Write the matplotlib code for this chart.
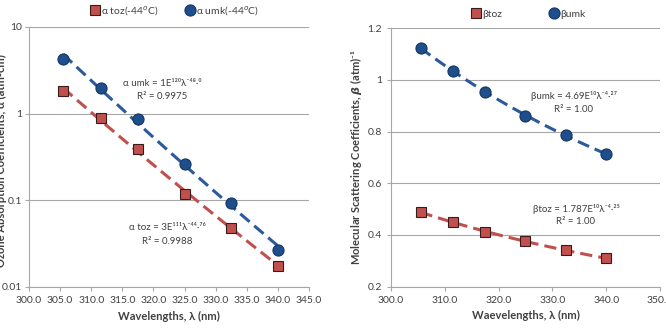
import numpy as np
import matplotlib
matplotlib.use("Agg")
import matplotlib.pyplot as plt
from matplotlib.ticker import FixedLocator, FuncFormatter

plt.rcParams['font.family'] = ['Lato', 'DejaVu Sans']
plt.rcParams['mathtext.fontset'] = 'custom'
plt.rcParams['mathtext.rm'] = 'Lato'

# wavelengths (nm)
wl = [305.5, 311.5, 317.5, 325.0, 332.5, 340.0]

# ozone absorption coefficients
alpha_toz = [1.84, 0.89, 0.39, 0.119, 0.0485, 0.0176]
alpha_umk = [4.29, 1.95, 0.87, 0.26, 0.092, 0.0266]

# molecular scattering coefficients
beta_toz = [0.488, 0.450, 0.413, 0.376, 0.340, 0.310]
beta_umk = [1.125, 1.035, 0.952, 0.862, 0.785, 0.714]

blue = "#1F4E8C"
blue_line = "#2A5A9C"
red = "#C0504D"
grid_c = "#A6A6A6"
txt_c = "#404040"


def power_fit(x, y):
    k, b = np.polyfit(np.log(x), np.log(y), 1)
    xs = np.linspace(min(x), max(x), 50)
    return xs, np.exp(b) * xs ** k


def style_axes(ax):
    ax.grid(axis='y', color=grid_c, linewidth=0.8)
    ax.set_axisbelow(True)
    for s in ['top', 'right']:
        ax.spines[s].set_visible(False)
    for s in ['left', 'bottom']:
        ax.spines[s].set_color(grid_c)
    ax.tick_params(axis='both', colors=grid_c, labelcolor=txt_c, labelsize=7.5, length=3)


fig = plt.figure(figsize=(6.66, 3.28), dpi=100)

# left panel: absorption (log scale)
ax1 = fig.add_axes([0.0435, 0.125, 0.4205, 0.793])
xs, ys = power_fit(wl, alpha_umk)
ax1.plot(xs, ys, '--', color=blue_line, linewidth=2.2, dashes=(4, 2))
xs, ys = power_fit(wl, alpha_toz)
ax1.plot(xs, ys, '--', color=red, linewidth=2.2, dashes=(4, 2))
ax1.plot(wl, alpha_toz, 's', color=red, markeredgecolor='#3a1a1a', markersize=6.5,
         markeredgewidth=0.8, label='α toz(-44$^{o}$C)')
ax1.plot(wl, alpha_umk, 'o', color=blue, markeredgecolor='#16375f', markersize=8,
         markeredgewidth=0.8, label='α umk(-44$^{o}$C)')
ax1.set_yscale('log')
ax1.set_ylim(0.01, 10)
ax1.set_xlim(300, 345)
ax1.xaxis.set_major_locator(FixedLocator(np.arange(300, 345.1, 5)))
ax1.xaxis.set_major_formatter(FuncFormatter(lambda v, p: f"{v:.1f}"))
ax1.yaxis.set_major_locator(FixedLocator([0.01, 0.1, 1, 10]))
ax1.yaxis.set_minor_locator(FixedLocator([]))
ax1.yaxis.set_major_formatter(FuncFormatter(lambda v, p: f"{v:g}"))
style_axes(ax1)
ax1.tick_params(axis='y', pad=2)
ax1.set_xlabel('Wavelengths, λ (nm)', fontsize=8, fontweight='bold', color=txt_c, labelpad=4)
ax1.set_ylabel('Ozone Absorption Coefficients, α (atm-cm)⁻¹', fontsize=8,
               fontweight='bold', color=txt_c)
ax1.yaxis.set_label_coords(-0.077, 0.5)
ax1.legend(loc='lower center', bbox_to_anchor=(0.52, 1.0), ncol=2, frameon=False,
           fontsize=7.5, handletextpad=0.1, columnspacing=2.5, handlelength=1,
           labelcolor=txt_c)

# right panel: scattering (linear scale)
ax2 = fig.add_axes([0.587, 0.126, 0.404, 0.788])
xs, ys = power_fit(wl, beta_umk)
ax2.plot(xs, ys, '--', color=blue_line, linewidth=2.2, dashes=(4, 2))
xs, ys = power_fit(wl, beta_toz)
ax2.plot(xs, ys, '--', color=red, linewidth=2.2, dashes=(4, 2))
ax2.plot(wl, beta_toz, 's', color=red, markeredgecolor='#3a1a1a', markersize=6.5,
         markeredgewidth=0.8, label='βtoz')
ax2.plot(wl, beta_umk, 'o', color=blue, markeredgecolor='#16375f', markersize=8,
         markeredgewidth=0.8, label='βumk')
ax2.set_ylim(0.2, 1.2)
ax2.set_xlim(300, 350)
ax2.xaxis.set_major_locator(FixedLocator(np.arange(300, 350.1, 10)))
ax2.xaxis.set_major_formatter(FuncFormatter(lambda v, p: f"{v:.1f}"))
ax2.yaxis.set_major_locator(FixedLocator([0.2, 0.4, 0.6, 0.8, 1.0, 1.2]))
ax2.yaxis.set_major_formatter(FuncFormatter(lambda v, p: f"{v:g}"))
style_axes(ax2)
ax2.set_xlabel('Waevelengths, λ (nm)', fontsize=8, fontweight='bold', color=txt_c, labelpad=4)
ax2.set_ylabel('Molecular Scattering Coefficients, $\\boldsymbol{\\beta}$ (atm)⁻¹',
               fontsize=8, fontweight='bold', color=txt_c)
ax2.yaxis.set_label_coords(-0.1, 0.5)
ax2.legend(loc='lower center', bbox_to_anchor=(0.51, 1.0), ncol=2, frameon=False,
           fontsize=7.5, handletextpad=0.1, columnspacing=4.5, handlelength=1,
           labelcolor=txt_c)

# equation annotations (trendline labels), placed in figure fractions
notes = [
    (162, 84, 'α umk = 1E¹²⁰λ⁻⁴⁸·⁰'),
    (162, 97, 'R² = 0.9975'),
    (167, 228, 'α toz = 3E¹¹¹λ⁻⁴⁴·⁷⁶'),
    (167, 242, 'R² = 0.9988'),
    (574, 96, 'βumk = 4.69E¹⁰λ⁻⁴·²⁷'),
    (574, 109, 'R² = 1.00'),
    (576, 209, 'βtoz = 1.787E¹⁰λ⁻⁴·²⁵'),
    (576, 222, 'R² = 1.00'),
]
for px, py, s in notes:
    fig.text(px / 666, 1 - py / 328, s, fontsize=7, color=txt_c, ha='center', va='center')

fig.savefig('out.png', dpi=100)
